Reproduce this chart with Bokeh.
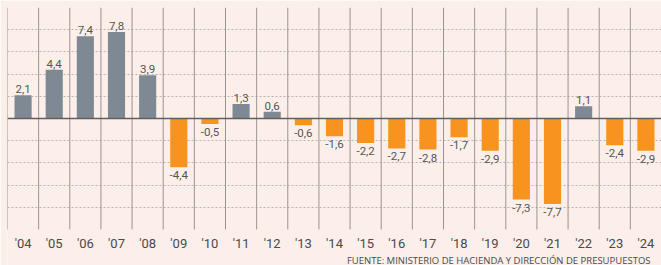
from bokeh.plotting import figure
from bokeh.models import FixedTicker, Span, ColumnDataSource
from bokeh.core.properties import value
from bokeh.embed import file_html
from bokeh.resources import INLINE

years = ["'04", "'05", "'06", "'07", "'08", "'09", "'10", "'11", "'12", "'13", "'14",
         "'15", "'16", "'17", "'18", "'19", "'20", "'21", "'22", "'23", "'24"]
values = [2.1, 4.4, 7.4, 7.8, 3.9, -4.4, -0.5, 1.3, 0.6, -0.6, -1.6,
          -2.2, -2.7, -2.8, -1.7, -2.9, -7.3, -7.7, 1.1, -2.4, -2.9]
labels = ["2,1", "4,4", "7,4", "7,8", "3,9", "-4,4", "-0,5", "1,3", "0,6", "-0,6", "-1,6",
          "-2,2", "-2,7", "-2,8", "-1,7", "-2,9", "-7,3", "-7,7", "1,1", "-2,4", "-2,9"]
y_min, y_max = -10, 10
y_ticks = [-8, -6, -4, -2, 2, 4, 6, 8, 10]
source_text = "FUENTE: MINISTERIO DE HACIENDA Y DIRECCIÓN DE PRESUPUESTOS"

BG = "#fcefea"
GRAY = "#7f8993"
ORANGE = "#f7931e"
FONT = "Roboto"

n = len(years)
idx = list(range(n))
colors = [GRAY if v >= 0 else ORANGE for v in values]

# frame spans the whole lower band too; 20 units of value = 222 px
p = figure(width=661, height=265, output_backend="svg", toolbar_location=None,
           x_range=(-0.5, n - 0.5), y_range=(y_max - 258 / 11.1, y_max),
           background_fill_color=BG, border_fill_color=BG,
           min_border_left=7, min_border_right=0, min_border_top=7, min_border_bottom=0)
p.outline_line_color = None
p.xaxis.visible = False
p.yaxis.visible = False
p.xgrid.visible = False

# horizontal dashed grid
p.ygrid.ticker = FixedTicker(ticks=y_ticks)
p.ygrid.grid_line_color = "#b9b3b0"
p.ygrid.grid_line_dash = "2 2"
p.ygrid.grid_line_width = 1

# vertical separators between years
bounds = [i - 0.5 for i in range(n + 1)]
p.segment(x0=bounds, y0=[y_min] * len(bounds), x1=bounds, y1=[y_max] * len(bounds),
          line_color="#999494", line_width=1)

src = ColumnDataSource(dict(x=idx, top=values, color=colors, label=labels))
p.vbar(x="x", top="top", bottom=0, width=0.55, fill_color="color", line_color=None, source=src)

p.add_layout(Span(location=0, dimension="width", line_color="#5f5f5f", line_width=1.5))

pos = ColumnDataSource(dict(x=[i for i, v in zip(idx, values) if v >= 0],
                            y=[v for v in values if v >= 0],
                            t=[l for l, v in zip(labels, values) if v >= 0]))
neg = ColumnDataSource(dict(x=[i for i, v in zip(idx, values) if v < 0],
                            y=[v for v in values if v < 0],
                            t=[l for l, v in zip(labels, values) if v < 0]))
p.text(x="x", y="y", text="t", source=pos, text_align="center", text_baseline="bottom",
       y_offset=-2, text_font=value(FONT), text_font_size="11.5px", text_color="#555555")
p.text(x="x", y="y", text="t", source=neg, text_align="center", text_baseline="top",
       y_offset=4, text_font=value(FONT), text_font_size="11.5px", text_color="#555555")

# year labels
p.text(x=idx, y=[y_min] * n, text=years, text_align="center", text_baseline="middle",
       y_offset=14, text_font=value(FONT), text_font_size="13px", text_color="#4a4a4a")

# source line
p.text(x=[n - 0.5], y=[y_min], text=[source_text], text_align="right", text_baseline="middle",
       x_offset=-11, y_offset=30.5, text_font=value("Open Sans"), text_font_size="9.5px",
       text_color="#4a4a4a")

open("out.html", "w").write(file_html(p, INLINE))
